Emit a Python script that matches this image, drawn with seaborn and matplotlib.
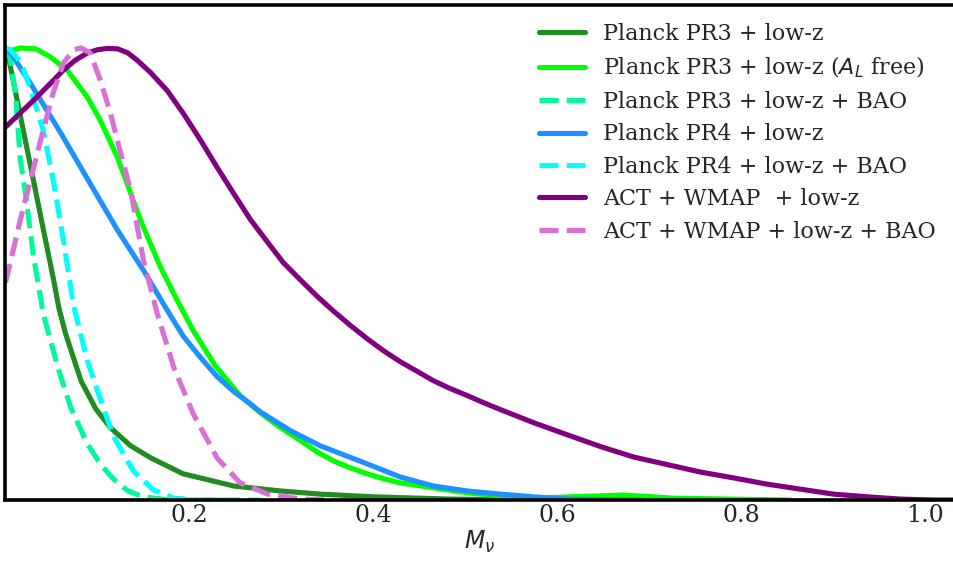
import matplotlib
matplotlib.use("Agg")
import matplotlib.pyplot as plt
import seaborn as sns

# ---- data ----
pr3_x = [0.0, 0.005, 0.016, 0.027, 0.038, 0.052, 0.058, 0.065, 0.082, 0.098, 0.114, 0.136, 0.158,
         0.193, 0.248, 0.299, 0.342, 0.400, 0.484, 0.592, 0.755]
pr3_y = [1.0, 0.962, 0.851, 0.741, 0.630, 0.490, 0.425, 0.370, 0.264, 0.202, 0.160, 0.120, 0.093,
         0.058, 0.031, 0.020, 0.013, 0.007, 0.002, 0.0, 0.0]

pr3al_x = [0.0, 0.016, 0.033, 0.049, 0.067, 0.089, 0.103, 0.114, 0.122, 0.133, 0.139, 0.150,
           0.158, 0.168, 0.185, 0.204, 0.228, 0.255, 0.277, 0.299, 0.321, 0.339, 0.357, 0.375,
           0.393, 0.411, 0.429, 0.465, 0.502, 0.538, 0.574, 0.614, 0.672, 0.726, 0.788, 0.853]
pr3al_y = [0.991, 1.0, 0.998, 0.980, 0.951, 0.891, 0.840, 0.792, 0.756, 0.696, 0.661, 0.603,
           0.565, 0.517, 0.448, 0.375, 0.297, 0.231, 0.193, 0.160, 0.131, 0.106, 0.086, 0.071,
           0.058, 0.047, 0.038, 0.027, 0.016, 0.009, 0.004, 0.007, 0.011, 0.004, 0.002, 0.0]

pr3bao_x = [0.0, 0.005, 0.011, 0.016, 0.022, 0.030, 0.041, 0.057, 0.071, 0.089, 0.103, 0.117,
            0.133, 0.150, 0.179, 0.245]
pr3bao_y = [1.0, 0.978, 0.896, 0.755, 0.674, 0.545, 0.412, 0.293, 0.204, 0.124, 0.080, 0.047,
            0.020, 0.007, 0.0, 0.0]

pr4_x = [0.0, 0.005, 0.027, 0.060, 0.090, 0.122, 0.150, 0.176, 0.193, 0.212, 0.230, 0.248,
         0.266, 0.277, 0.310, 0.342, 0.393, 0.429, 0.465, 0.502, 0.538, 0.574, 0.611, 0.690]
pr4_y = [1.0, 0.991, 0.922, 0.812, 0.707, 0.596, 0.508, 0.419, 0.363, 0.315, 0.273, 0.240,
         0.213, 0.195, 0.153, 0.120, 0.080, 0.051, 0.031, 0.020, 0.013, 0.007, 0.002, 0.0]

pr4bao_x = [0.0, 0.005, 0.013, 0.020, 0.030, 0.041, 0.052, 0.063, 0.074, 0.089, 0.100, 0.117,
            0.139, 0.161, 0.183, 0.212, 0.277]
pr4bao_y = [1.0, 0.996, 0.978, 0.951, 0.891, 0.818, 0.707, 0.574, 0.430, 0.308, 0.242, 0.142,
            0.064, 0.022, 0.004, 0.0, 0.0]

act_x = [0.0, 0.016, 0.033, 0.049, 0.063, 0.076, 0.089, 0.100, 0.111, 0.122, 0.133, 0.143,
         0.158, 0.176, 0.193, 0.212, 0.230, 0.248, 0.266, 0.285, 0.302, 0.321, 0.339, 0.357,
         0.375, 0.393, 0.411, 0.429, 0.448, 0.465, 0.484, 0.502, 0.520, 0.538, 0.574, 0.611,
         0.647, 0.683, 0.720, 0.755, 0.791, 0.828, 0.864, 0.900, 0.937, 0.973, 1.009, 1.03]
act_y = [0.825, 0.856, 0.889, 0.922, 0.951, 0.973, 0.989, 0.996, 0.999, 0.998, 0.989, 0.973,
         0.945, 0.905, 0.856, 0.796, 0.736, 0.678, 0.621, 0.570, 0.525, 0.486, 0.450, 0.417,
         0.386, 0.357, 0.330, 0.306, 0.284, 0.264, 0.246, 0.231, 0.215, 0.200, 0.171, 0.144,
         0.118, 0.095, 0.078, 0.062, 0.049, 0.035, 0.024, 0.013, 0.007, 0.002, 0.0, 0.0]

actbao_x = [0.0, 0.005, 0.016, 0.027, 0.041, 0.052, 0.063, 0.074, 0.082, 0.092, 0.103, 0.114,
            0.125, 0.136, 0.150, 0.165, 0.183, 0.204, 0.230, 0.255, 0.285, 0.321, 0.353]
actbao_y = [0.481, 0.523, 0.619, 0.707, 0.818, 0.902, 0.967, 0.996, 1.0, 0.989, 0.929, 0.856,
            0.769, 0.685, 0.530, 0.412, 0.293, 0.191, 0.093, 0.038, 0.013, 0.002, 0.0]

labels = ["Planck PR3 + low-z", "Planck PR3 + low-z ($A_L$ free)", "Planck PR3 + low-z + BAO",
          "Planck PR4 + low-z", "Planck PR4 + low-z + BAO", "ACT + WMAP  + low-z",
          "ACT + WMAP + low-z + BAO"]
xticks = [0.2, 0.4, 0.6, 0.8, 1.0]
xtick_labels = ["0.2", "0.4", "0.6", "0.8", "1.0"]

# ---- style ----
sns.set_style("white")
plt.rcParams["font.family"] = ["DejaVu Serif"]
plt.rcParams["mathtext.fontset"] = "dejavusans"

fig = plt.figure(figsize=(9.54, 5.63), dpi=100)
ax = fig.add_axes([5.5 / 954, (563 - 500) / 563, 1 - 5.5 / 954, (500 - 5) / 563])

series = [
    (pr3_x, pr3_y, "forestgreen", "-"),
    (pr3al_x, pr3al_y, "#00FF00", "-"),
    (pr3bao_x, pr3bao_y, "mediumspringgreen", "--"),
    (pr4_x, pr4_y, "dodgerblue", "-"),
    (pr4bao_x, pr4bao_y, "cyan", "--"),
    (act_x, act_y, "purple", "-"),
    (actbao_x, actbao_y, "orchid", "--"),
]
for (xs, ys, col, ls), lab in zip(series, labels):
    kw = dict(dashes=(2.6, 1.4)) if ls == "--" else {}
    sns.lineplot(x=xs, y=ys, ax=ax, color=col, linestyle=ls, lw=3.7, label=lab,
                 sort=False, estimator=None, **kw)

ax.set_xlim(0, 1.031)
ax.set_ylim(0, 1.095)
ax.set_xticks(xticks)
ax.set_xticklabels(xtick_labels, fontsize=17)
ax.set_yticks([])
ax.tick_params(axis="x", length=0, pad=3)
ax.set_xlabel(r"$M_\nu$", fontsize=17, labelpad=1)
ax.set_ylabel("")
for side in ["left", "bottom", "top"]:
    ax.spines[side].set_color("black")
    ax.spines[side].set_linewidth(2.6)
ax.spines["right"].set_visible(False)

leg = ax.legend(loc="upper right", bbox_to_anchor=(0.995, 0.991), frameon=False, fontsize=16,
                handlelength=2.1, handletextpad=0.8, labelspacing=0.47, borderaxespad=0.2)

fig.savefig("out.png", dpi=100)
